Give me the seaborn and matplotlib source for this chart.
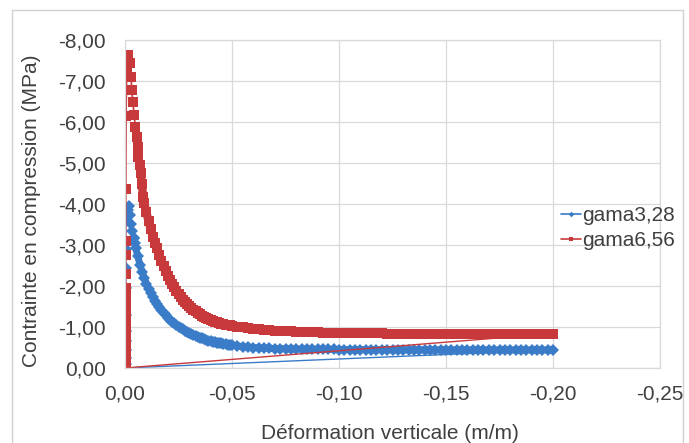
import matplotlib
matplotlib.use("Agg")
import matplotlib.pyplot as plt
import seaborn as sns
import pandas as pd
from matplotlib.ticker import FuncFormatter
from matplotlib.patches import Rectangle

# ---------------- data ----------------
series_names = ["gama3,28", "gama6,56"]

# gama3,28 (blue)
blue_x = [0.0, -0.0003, -0.0003, -0.0003, -0.0003, -0.0003, -0.0003, -0.0003, -0.0003, -0.0003, -0.0003,
          -0.0012, -0.0020, -0.0025, -0.0030, -0.0035, -0.0040, -0.0045, -0.0050,
          -0.006, -0.007, -0.008, -0.009, -0.010, -0.011, -0.012, -0.013, -0.014, -0.015,
          -0.016, -0.017, -0.018, -0.019, -0.020, -0.021, -0.022, -0.023, -0.024, -0.025,
          -0.026, -0.027, -0.028, -0.029, -0.030, -0.031, -0.032, -0.033, -0.034, -0.035,
          -0.036, -0.037, -0.038, -0.039, -0.040, -0.041, -0.042, -0.043, -0.044, -0.045,
          -0.046, -0.047, -0.048, -0.049, -0.050,
          -0.0525, -0.055, -0.0575, -0.060, -0.0625, -0.065, -0.0675, -0.070, -0.0725, -0.075,
          -0.0775, -0.080, -0.0825, -0.085, -0.0875, -0.090, -0.0925, -0.095, -0.0975, -0.100,
          -0.1025, -0.105, -0.1075, -0.110, -0.1125, -0.115, -0.1175, -0.120, -0.1225, -0.125,
          -0.1275, -0.130, -0.1325, -0.135, -0.1375, -0.140, -0.1425, -0.145, -0.1475, -0.150,
          -0.1525, -0.155, -0.1575, -0.160, -0.1625, -0.165, -0.1675, -0.170, -0.1725, -0.175,
          -0.1775, -0.180, -0.1825, -0.185, -0.1875, -0.190, -0.1925, -0.195, -0.1975, -0.200,
          0.0]
blue_y = [0.0, -0.10, -0.25, -0.45, -0.65, -0.90, -1.30, -1.95, -2.45, -2.90, -3.60,
          -3.85, -3.95, -3.72, -3.52, -3.34, -3.18, -3.05, -2.93,
          -2.72, -2.52, -2.35, -2.20, -2.05, -1.93, -1.82, -1.72, -1.63, -1.55,
          -1.48, -1.41, -1.35, -1.29, -1.23, -1.18, -1.13, -1.09, -1.05, -1.01,
          -0.97, -0.94, -0.91, -0.88, -0.85, -0.82, -0.80, -0.78, -0.76, -0.74,
          -0.72, -0.70, -0.68, -0.67, -0.65, -0.64, -0.63, -0.62, -0.61, -0.60,
          -0.59, -0.58, -0.57, -0.56, -0.55,
          -0.54, -0.52, -0.51, -0.50, -0.49, -0.485, -0.48, -0.475, -0.472, -0.47,
          -0.465, -0.46, -0.46, -0.458, -0.456, -0.455, -0.454, -0.453, -0.452, -0.45,
          -0.45, -0.449, -0.448, -0.448, -0.447, -0.447, -0.446, -0.446, -0.445, -0.445,
          -0.445, -0.444, -0.444, -0.444, -0.443, -0.443, -0.443, -0.442, -0.442, -0.442,
          -0.442, -0.441, -0.441, -0.441, -0.441, -0.44, -0.44, -0.44, -0.44, -0.44,
          -0.44, -0.44, -0.44, -0.44, -0.44, -0.44, -0.44, -0.44, -0.44, -0.44,
          0.0]

# gama6,56 (red)
red_x = [0.0, -0.0003, -0.0003, -0.0003, -0.0003, -0.0003, -0.0003, -0.0003, -0.0003, -0.0003, -0.0003,
         -0.0003, -0.0003, -0.0003, -0.0004, -0.0005, -0.0008, -0.0015,
         -0.0023, -0.0028, -0.0032, -0.0036, -0.0043, -0.0048, -0.0054, -0.0059, -0.0063,
         -0.0069, -0.0074, -0.0078, -0.0085,
         -0.009, -0.010, -0.011, -0.012, -0.013, -0.014, -0.015, -0.016, -0.017, -0.018,
         -0.019, -0.020, -0.021, -0.022, -0.023, -0.024, -0.025, -0.026, -0.027, -0.028,
         -0.029, -0.030, -0.031, -0.032, -0.033, -0.034, -0.035, -0.036, -0.037, -0.038,
         -0.039, -0.040, -0.041, -0.042, -0.043, -0.044, -0.045, -0.046, -0.047, -0.048,
         -0.049, -0.050,
         -0.0525, -0.055, -0.0575, -0.060, -0.0625, -0.065, -0.0675, -0.070, -0.0725, -0.075,
         -0.0775, -0.080, -0.0825, -0.085, -0.0875, -0.090, -0.0925, -0.095, -0.0975, -0.100,
         -0.1025, -0.105, -0.1075, -0.110, -0.1125, -0.115, -0.1175, -0.120, -0.1225, -0.125,
         -0.1275, -0.130, -0.1325, -0.135, -0.1375, -0.140, -0.1425, -0.145, -0.1475, -0.150,
         -0.1525, -0.155, -0.1575, -0.160, -0.1625, -0.165, -0.1675, -0.170, -0.1725, -0.175,
         -0.1775, -0.180, -0.1825, -0.185, -0.1875, -0.190, -0.1925, -0.195, -0.1975, -0.200,
         0.0]
red_y = [0.0, -0.15, -0.35, -0.55, -0.75, -0.98, -1.15, -1.35, -1.55, -1.75, -1.95,
         -2.30, -2.75, -3.10, -4.37, -6.15, -7.22, -7.63,
         -7.44, -7.10, -6.78, -6.50, -6.17, -5.88, -5.63, -5.40, -5.15,
         -4.95, -4.75, -4.50, -4.17,
         -4.02, -3.80, -3.58, -3.38, -3.20, -3.05, -2.92, -2.76, -2.62, -2.49,
         -2.36, -2.25, -2.14, -2.05, -1.97, -1.89, -1.81, -1.74, -1.67, -1.61,
         -1.56, -1.51, -1.46, -1.42, -1.38, -1.34, -1.31, -1.28, -1.25, -1.22,
         -1.19, -1.17, -1.15, -1.13, -1.11, -1.10, -1.08, -1.07, -1.06, -1.05,
         -1.04, -1.03,
         -1.01, -0.99, -0.97, -0.96, -0.94, -0.93, -0.92, -0.91, -0.905, -0.90,
         -0.895, -0.89, -0.885, -0.88, -0.875, -0.87, -0.865, -0.86, -0.86, -0.855,
         -0.855, -0.85, -0.85, -0.85, -0.845, -0.845, -0.845, -0.845, -0.84, -0.84,
         -0.84, -0.84, -0.84, -0.84, -0.84, -0.84, -0.84, -0.84, -0.84, -0.84,
         -0.84, -0.84, -0.84, -0.84, -0.84, -0.84, -0.84, -0.84, -0.84, -0.84,
         -0.84, -0.84, -0.84, -0.84, -0.84, -0.84, -0.84, -0.84, -0.84, -0.84,
         0.0]

x_ticks = [0.0, -0.05, -0.10, -0.15, -0.20, -0.25]
y_ticks = [0, -1, -2, -3, -4, -5, -6, -7, -8]

blue = "#3a7cc8"
red = "#c8393b"
text_c = "#404040"
grid_c = "#d9d9d9"

# ---------------- figure ----------------
sns.set_theme(style="white")
plt.rcParams["font.family"] = ["Liberation Sans", "DejaVu Sans"]

W, H = 689, 443
fig = plt.figure(figsize=(W / 100, H / 100), dpi=100)
fig.patch.set_facecolor("white")
ax = fig.add_axes([125 / W, 1 - 368 / H, 535 / W, 328 / H])

df_b = pd.DataFrame({"x": blue_x, "y": blue_y})
df_r = pd.DataFrame({"x": red_x, "y": red_y})


def draw(df, color, marker, ms, thin_end, thick_lw, label):
    n = len(df)
    # thin part (loading branch and first points after the peak)
    sns.lineplot(data=df.iloc[:thin_end + 1], x="x", y="y", sort=False, estimator=None,
                 ax=ax, color=color, linewidth=1.2, marker=marker, markersize=ms,
                 markeredgewidth=0, label=label)
    # dense part (markers merge into a band)
    sns.lineplot(data=df.iloc[thin_end:n - 1], x="x", y="y", sort=False, estimator=None,
                 ax=ax, color=color, linewidth=thick_lw, marker=marker, markersize=ms,
                 markeredgewidth=0, solid_capstyle="round", legend=False)
    # closing segment back to origin
    sns.lineplot(data=df.iloc[n - 2:], x="x", y="y", sort=False, estimator=None,
                 ax=ax, color=color, linewidth=1.0, legend=False)


draw(df_b, blue, "D", 6.3, 16, 5.0, series_names[0])
draw(df_r, red, "s", 7.0, 28, 6.0, series_names[1])

ax.set_xlim(0, -0.25)
ax.set_ylim(0, -8)
ax.set_xticks(x_ticks)
ax.set_yticks(y_ticks)


def fmt(v, pos=None):
    if abs(v) < 1e-9:
        v = 0.0
    return f"{v:.2f}".replace(".", ",")


ax.xaxis.set_major_formatter(FuncFormatter(fmt))
ax.yaxis.set_major_formatter(FuncFormatter(fmt))
ax.tick_params(axis="both", length=0, labelsize=15, colors=text_c)
ax.tick_params(axis="x", pad=12)
ax.tick_params(axis="y", pad=14)

ax.grid(True, color=grid_c, linewidth=0.9)
ax.set_axisbelow(True)
for s in ax.spines.values():
    s.set_color(grid_c)
    s.set_linewidth(0.9)

ax.set_xlabel("Déformation verticale (m/m)", fontsize=15, color=text_c)
ax.set_ylabel("Contrainte en compression (MPa)", fontsize=15, color=text_c)
ax.xaxis.set_label_coords(0.495, -0.171)
ax.yaxis.set_label_coords(-0.157, 0.479)

leg = ax.legend(loc="center left", bbox_to_anchor=(561 / W, 1 - 228 / H),
                bbox_transform=fig.transFigure, frameon=False, fontsize=15,
                handlelength=0.95, handletextpad=0.05, borderpad=0,
                borderaxespad=0, labelspacing=0.3, markerscale=0.45)
for t in leg.get_texts():
    t.set_color(text_c)

fig.patches.append(Rectangle((12 / W, -0.02), (683 - 12) / W, 1 - 10 / H + 0.02,
                             transform=fig.transFigure, fill=False,
                             edgecolor="#d0d0d0", linewidth=1.0))

fig.savefig("out.png", dpi=100)
